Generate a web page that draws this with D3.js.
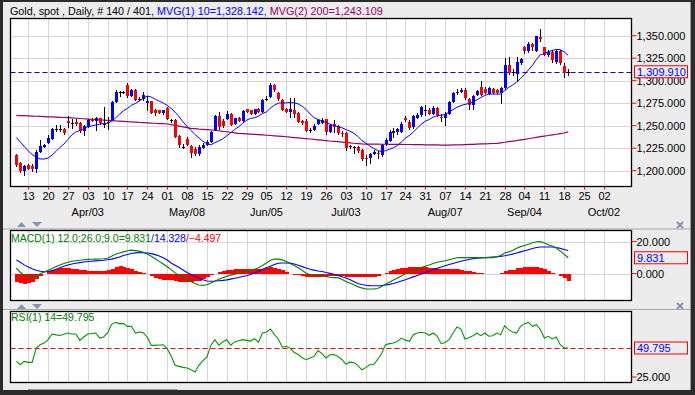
<!DOCTYPE html>
<html><head><meta charset="utf-8">
<script src="https://cdn.jsdelivr.net/npm/d3@7"></script>
<style>
body{margin:0;background:#2b2b2b;}
svg{display:block;font-family:"Liberation Sans",Arial,sans-serif;}
</style>
</head><body>
<svg id="c" width="695" height="395"></svg>
<script>
// ---------- DATA ----------
const opens=[1217,1209,1200,1206,1205.5,1201.5,1221,1226,1231,1235,1246,1246,1246,1255,1253.5,1254,1253,1244,1248,1257,1255.6,1258,1252.2,1254.2,1256,1276,1287,1287,1295,1283,1290,1279.2,1280,1275,1277,1267,1267,1264,1270,1256.2,1256,1238.5,1226.2,1235,1227.5,1224.5,1218.5,1225,1228.5,1232,1245,1260.7,1255,1257,1263,1252,1258,1255.6,1268,1267,1263,1268,1265.6,1280.2,1282,1295,1286,1279,1268,1265.6,1267,1263.7,1255,1255.6,1245.2,1245,1252,1253,1257,1243.4,1252,1249.7,1242,1242,1226,1226.2,1226.7,1223,1214,1214,1219,1220,1217,1230,1233,1242,1243.4,1243.4,1258,1254.5,1248,1258.5,1261.9,1267.7,1267.5,1263,1270,1260,1258,1263,1276,1286,1288,1289.6,1280,1273,1284,1292.6,1291,1285,1291,1290,1286,1291.5,1317.4,1310.2,1308,1320,1337,1333.3,1340.7,1333,1349,1337,1328.5,1332,1321,1333,1316,1309.9];
const highs=[1219,1210,1206,1208,1207,1223,1234,1230,1240,1248,1251,1251,1247,1261,1258,1257,1254,1251,1257,1259,1260,1259,1271,1260,1278,1290,1289,1289,1297,1291,1291,1282,1288,1283,1278,1269,1268,1268,1271,1258,1257,1240,1230,1237,1229,1226,1229,1231,1234,1244,1262,1265,1257,1266,1264,1259,1260,1268,1269,1268,1269,1270,1280,1283,1297,1296,1287,1280,1270,1281,1281,1265,1256,1257,1248,1252,1258,1259,1258,1252,1256,1251,1244,1243,1229,1228,1228,1224,1218,1220,1223,1222,1230,1236,1245,1247,1248,1254,1261,1256,1262,1264,1272,1273,1270,1272,1271,1263,1265,1278,1288,1291,1292,1292,1281,1284,1290,1300,1293,1293,1292,1291,1293,1325,1326,1313,1326,1325,1339,1343,1342,1350,1357,1338,1334,1334,1334,1334,1320,1313];
const lows=[1204.5,1198,1194,1201,1199,1197,1220,1225,1230,1234,1243,1243,1240,1247,1246,1250,1242,1239,1247,1254,1244,1251,1247,1245,1255,1275,1282,1285,1281,1282,1277,1277,1278,1266,1263,1261,1263,1262,1256,1253,1236,1225,1224,1227,1214,1216,1216,1224,1227,1231,1244,1245,1248,1256,1250,1251,1254,1254,1264,1262,1262,1264,1264,1278,1281,1288,1278,1266,1264,1259,1259,1253,1251,1243,1242,1244,1251,1252,1240,1242,1242,1240,1238,1222,1224,1219,1220,1211,1205,1207,1217,1213,1215,1228,1232,1236,1240,1242,1254,1245,1246,1257,1260,1261,1262,1262,1260,1254,1250,1262,1275,1284,1286,1279,1267.4,1267,1283,1283,1285,1284,1285,1285,1274,1290,1306,1305,1299,1318,1330,1331,1333,1332,1343,1327,1326,1320,1319,1318,1302.6,1305];
const closes=[1206,1200,1205,1202,1201.5,1221,1227,1229,1236,1246,1246,1246.3,1241.5,1253,1253,1252,1244,1250,1256,1255,1258,1252.6,1252,1254,1276,1287,1287.2,1287,1283.4,1290,1278.5,1279,1284,1278,1264,1264,1264,1267,1257,1256,1237,1228.5,1226,1229,1219.3,1218.5,1226,1228,1232,1243,1260.7,1248,1249.6,1263,1250.8,1258,1255,1266.7,1265.6,1263,1268,1265.6,1278.6,1280,1295.2,1289.6,1279.3,1267.4,1265.6,1268,1263,1254.5,1252.6,1244.5,1245,1250,1256,1256.5,1243.4,1250.8,1248,1241.5,1241,1224.8,1227.4,1226,1222,1212.6,1213,1218.5,1221,1218,1228.5,1234,1243.4,1244,1246,1251.9,1256,1247,1260.7,1261.9,1270.4,1267.5,1263,1270,1262,1258,1263,1276,1286,1288,1289.6,1280.4,1273,1283,1288.9,1284,1286,1291.5,1286,1286,1291.5,1317.4,1308.9,1310,1321,1323.6,1333.3,1340.7,1337,1349.6,1346,1328.5,1332,1323,1333,1320,1309,1309.91];
const ma10=[1237,1232,1227,1222,1218,1215,1213,1213,1214,1217.4,1221.4,1226,1229.6,1234.7,1239.9,1243,1244.7,1246.8,1248.8,1249.7,1250.9,1251.5,1252.6,1252.7,1255,1258.5,1262.8,1266.5,1269.2,1272.7,1274.8,1277.4,1280.6,1283,1281.8,1279.5,1277.2,1275.2,1272.6,1269.2,1265,1260,1254.2,1249.3,1244.8,1240.3,1236.5,1232.6,1230.1,1228.8,1231.1,1233.1,1235.4,1238.8,1242,1245.9,1248.8,1252.7,1256.1,1258.1,1258.8,1260.6,1263.5,1265.2,1269.6,1272.8,1275.2,1275.3,1275.3,1275.8,1275.3,1274.2,1271.6,1268,1263,1259,1256.7,1255.6,1253.4,1251.7,1250.2,1248.9,1247.7,1245.7,1244,1241.6,1238.2,1233.8,1230.8,1227.5,1224.8,1222.5,1221.2,1222.2,1223.8,1225.6,1228,1231.9,1236.2,1239.1,1243,1247.4,1251.6,1255,1256.9,1259.5,1261.1,1261.7,1262.4,1265.3,1267.9,1270.5,1272.4,1273.7,1274.7,1276,1278.7,1281.3,1283.6,1285.2,1285.2,1285,1285.2,1288.9,1292.5,1295.2,1298.4,1302.3,1307.1,1312,1317.1,1323.5,1328.9,1330,1332.3,1333.6,1334.8,1334.5,1332,1328.142];
const ma200=[1261.5,1261.3,1261.1,1260.9,1260.7,1260.5,1260.3,1260.1,1259.9,1259.7,1259.5,1259.3,1259.1,1258.9,1258.6,1258.3,1258,1257.7,1257.4,1257.1,1256.8,1256.5,1256.2,1255.9,1255.6,1255.3,1255.1,1254.8,1254.5,1254.3,1254,1253.7,1253.5,1253.2,1252.9,1252.7,1252.4,1252.2,1251.9,1251.1,1250.3,1249.5,1248.7,1247.9,1247,1246.7,1246.3,1246,1245.7,1245.3,1245,1244.4,1243.8,1243.3,1242.7,1242.1,1241.5,1241.2,1240.9,1240.6,1240.3,1240,1239.7,1239.4,1239.1,1238.8,1238.5,1238.1,1237.7,1237.2,1236.8,1236.4,1236,1235.6,1235.2,1234.7,1234.3,1233.9,1233.5,1233,1232.6,1232.2,1231.8,1231.4,1231,1230.5,1230.1,1229.7,1229.6,1229.6,1229.5,1229.5,1229.4,1229.4,1229.3,1229.3,1229.2,1229.2,1229.1,1229.1,1229,1229,1228.9,1228.8,1228.8,1228.7,1228.6,1228.5,1228.5,1228.5,1228.6,1228.6,1228.8,1229,1229.2,1229.3,1229.5,1229.7,1229.9,1230,1230.2,1230.4,1231,1231.6,1232.3,1232.9,1233.5,1234.2,1234.8,1235.5,1236.3,1237,1237.8,1238.5,1239.1,1239.8,1240.5,1241.2,1241.9,1243.109];
const macd=[3.4,0.8,-1.2,-2,-2.4,-1.5,-0.2,1,2.1,3.2,4.3,5.3,6.2,7,7.7,8,8.3,8.6,8.8,8.9,9,9.1,9.2,9.5,10.8,12,12.8,13.5,14.2,14.6,14.3,14,13.2,12.2,10.8,9.2,7.6,5.9,4.2,2.4,0.4,-1.2,-2.6,-3.8,-5,-6.2,-7.2,-7.4,-7,-6,-4.8,-3.6,-2.6,-1.8,-1,-0.4,0.2,0.8,1.4,2,2.7,3.6,5,6.6,8.3,9.1,9,8.5,7.5,6.2,5,3.6,2,0.2,-0.6,-0.9,-1.1,-1.4,-1.8,-2.3,-2.6,-2.6,-3.6,-5,-6,-7,-8.2,-9,-9.7,-9.7,-9.7,-9.4,-8.2,-6.6,-5.4,-4.1,-2.8,-1.5,-0.2,0.8,1.8,2.8,3.7,4.5,5.3,6.2,7,7.5,8,8.6,9.2,9.8,9.9,9.9,9.9,9.9,9.9,9.9,9.9,9.9,9.9,10.4,11.2,12.8,13.5,14.4,15.8,16.8,17.5,18.3,19.2,19.8,19.9,19,18,17.2,16,14,12,9.831];
const signal=[8.5,7,5.4,4,2.9,2,1.4,1,1.2,1.8,2.7,3.6,4.5,5.3,5.9,6.4,6.8,7.2,7.5,7.7,7.9,8.1,8.3,8.6,9,9.6,10.3,11.2,11.9,12.5,12.9,13.1,13,12.8,12.4,11.8,10.9,9.8,8.4,6.6,5.2,3.8,2.2,0.6,-0.6,-1.7,-2.8,-3.9,-4.7,-4.8,-4.7,-4.5,-4.3,-4,-3.5,-3,-2.5,-1.9,-1.4,-0.6,0.4,1.3,2.6,3.6,4.6,5.6,6.4,6.6,6.6,6.5,5.9,5.1,4.3,3.4,2.6,2.1,1.6,1.2,0.6,0.1,-0.5,-1.2,-2,-2.8,-3.8,-5,-6.2,-6.9,-7.3,-7.6,-7.7,-7.7,-7.6,-7.2,-6.8,-6.2,-5.5,-4.7,-3.9,-3,-2.1,-1.2,-0.3,0.6,1.5,2.4,3.2,4,4.8,5.6,6.3,7,7.7,8.3,8.8,9.2,9.5,9.7,9.9,10.1,10.3,10.5,10.7,11.1,11.6,12.1,12.8,13.5,14.2,14.9,15.6,16.3,16.6,16.6,16.6,16.6,16.3,15.7,15,14.328];
const hist=[-5.1,-6.2,-6.6,-6,-5.3,-3.5,-1.6,0,1.5,2.4,3,3.4,3.4,3.2,3,2.6,2.2,1.9,1.7,1.5,1.4,1.3,1.5,2,3,4,4.4,4.2,3.6,2.8,1.8,1,0.3,-0.6,-1.6,-2.6,-3.3,-3.9,-4.2,-4.2,-4.8,-5,-5.2,-5.4,-5.2,-4.9,-4.4,-3.5,-2.3,-1.2,-0.1,0.9,1.7,2.2,2.5,2.6,2.7,2.7,2.8,2.7,2.6,2.7,2.9,3.4,3.9,3.7,2.8,1.9,0.9,-0.3,-0.8,-1.2,-1.7,-2.2,-2.3,-2.2,-2,-1.9,-1.8,-1.8,-1.6,-1.4,-1.6,-2.2,-2.2,-2,-2,-2.1,-2.4,-2.1,-2,-1.7,-0.6,0.6,1.4,2.1,2.7,3.2,3.7,3.8,3.9,4,4,3.8,3.5,3.3,3.1,2.9,2.7,2.6,2.6,2.6,2.3,1.8,1.3,0.9,0.5,0.2,0,-0.2,-0.4,-0.1,0.5,1.7,1.9,2.5,3.2,3.7,4,4.1,4.2,4,3.6,2.6,1.5,0.6,-0.3,-1.7,-3,-4.497];
const rsi=[38.3,35.5,38.3,37.5,37.5,49.8,52.6,54,57,61.7,61,60.5,61.5,62.6,61.7,61.7,56.3,59.2,61.7,62.2,62.6,58.3,59.2,62.6,70,71.7,70.6,70.6,68.3,68.3,62.6,63.4,62.8,59,52,52,52.3,52.6,49.2,43,35,34.1,33.2,32.7,31.3,29.3,35,39,42,52,56.9,52.2,55,56.9,52.2,55,56,56.9,56.3,55.7,57.7,54.8,62.6,63.5,66,61.2,57.5,50.5,51.2,49.5,46,44.2,41.5,39.8,41.2,42.6,47.6,45,41.3,44,44.2,42.6,40,36,37.7,37.4,35,31.2,33,35.5,35.5,40,45,52.6,53.5,54,55.5,58.3,56.5,55.5,61.2,62.6,63.2,62.6,60.6,62.6,60,53.5,54.5,56.9,62.6,67.7,66,57.5,58.5,60.3,62.6,60.3,62.6,59.8,60.3,62.6,61,68.9,65.5,63.5,62.6,68.3,70.6,71.7,68.3,69.7,65.5,58.3,59.8,57.5,59.2,52.6,49.8,49.795];
const weekLabels=["13","20","27","03","10","17","24","01","08","15","22","29","05","12","19","26","03","10","17","24","31","07","14","21","28","04","11","18","25","02"];
const monthLabels=[{k:3,t:"Apr/03"},{k:8,t:"May/08"},{k:12,t:"Jun/05"},{k:16,t:"Jul/03"},{k:21,t:"Aug/07"},{k:25,t:"Sep/04"},{k:29,t:"Oct/02"}];
const priceTicks=[1200,1225,1250,1275,1300,1325,1350];
const macdTicks=[0,20];
const rsiTicks=[25];
const lastPrice=1309.91, lastMacd=9.831, lastSignal=14.328, lastHist=-4.497, lastRsi=49.795;
const ma10Last=1328.142, ma200Last=1243.109;
const firstWeekIdx=3, barsPerWeek=5;

// ---------- LAYOUT ----------
const L=10.5, R=631.5;
const P={top:18.5,bot:186.5}, M={top:230.5,bot:300.5}, S={top:311.5,bot:382.5};
const BG="#ececec", GRID="#d6d6d6";
const svg=d3.select("#c");
const x=d3.scaleLinear().domain([0,148]).range([16.3,603.9]);
const yP=d3.scaleLinear().domain([1200,1350]).range([170.7,35.7]);
const yM=d3.scaleLinear().domain([0,20]).range([273.5,241.5]);
const yR=d3.scaleLinear().domain([25,75]).range([377,318.5]);
const f3=d3.format(",.3f");
const idx=d3.range(closes.length);

svg.append("rect").attr("x",3).attr("y",2).attr("width",688).attr("height",388).attr("fill",BG);
[229,309.5].forEach(yy=>svg.append("line").attr("x1",3).attr("x2",691).attr("y1",yy).attr("y2",yy).attr("stroke","#a9a9a9"));
svg.append("line").attr("x1",690.5).attr("x2",690.5).attr("y1",2).attr("y2",390).attr("stroke","#9a9a9a");

const defs=svg.append("defs");
function panel(id,box){
  defs.append("clipPath").attr("id",id).append("rect").attr("x",L).attr("y",box.top).attr("width",R-L).attr("height",box.bot-box.top);
  svg.append("rect").attr("x",L).attr("y",box.top).attr("width",R-L).attr("height",box.bot-box.top).attr("fill","#fff");
  const g=svg.append("g").attr("clip-path",`url(#${id})`);
  weekLabels.forEach((t,k)=>{const xx=Math.round(x(firstWeekIdx+k*barsPerWeek))+0.5;
    g.append("line").attr("x1",xx).attr("x2",xx).attr("y1",box.top).attr("y2",box.bot).attr("stroke",GRID);});
  return g;
}
function frame(box){
  svg.append("rect").attr("x",L).attr("y",box.top).attr("width",R-L).attr("height",box.bot-box.top).attr("fill","none").attr("stroke","#000").attr("stroke-width",1.3);
}
function yLabel(yy,txt,col){
  svg.append("line").attr("x1",R).attr("x2",R+5).attr("y1",yy).attr("y2",yy).attr("stroke","#ff0000");
  svg.append("text").attr("x",R+5).attr("y",yy+4).attr("font-size",11).attr("fill",col||"#000").text(txt);
}
function valBox(yy,txt){
  svg.append("rect").attr("x",634.5).attr("y",yy-6).attr("width",53).attr("height",12).attr("fill",BG).attr("stroke","#ff0000");
  svg.append("text").attr("x",637).attr("y",yy+4).attr("font-size",11).attr("fill","#0000ff").text(txt);
}
function fitWidth(sel,target){
  const w=sel.node().getComputedTextLength();
  if(w>0) sel.attr("font-size",11*target/w);
}

// ---------- PRICE PANEL ----------
const gP=panel("cp",P);
priceTicks.forEach(v=>{const yy=Math.round(yP(v))+0.5;
  gP.append("line").attr("x1",L).attr("x2",R).attr("y1",yy).attr("y2",yy).attr("stroke",GRID);});
gP.append("line").attr("x1",L).attr("x2",R).attr("y1",Math.round(yP(lastPrice))+0.5).attr("y2",Math.round(yP(lastPrice))+0.5)
  .attr("stroke","#0000ff").attr("stroke-dasharray","5,3");
gP.append("path").datum(idx).attr("fill","none").attr("stroke","#990066").attr("stroke-width",1.2)
  .attr("d",d3.line().x(i=>x(i)).y(i=>yP(ma200[i])));
const cg=gP.append("g").attr("shape-rendering","crispEdges");
idx.forEach(i=>{
  const xx=Math.round(x(i));
  cg.append("line").attr("x1",xx+0.5).attr("x2",xx+0.5).attr("y1",yP(highs[i])).attr("y2",yP(lows[i])).attr("stroke","#000");
  const o=opens[i],c=closes[i];
  const top=yP(Math.max(o,c)), bot=yP(Math.min(o,c));
  if(Math.abs(o-c)<0.6){
    cg.append("rect").attr("x",xx-1).attr("y",Math.round(top)).attr("width",3).attr("height",1).attr("fill","#000");
  } else {
    cg.append("rect").attr("x",xx-1).attr("y",Math.round(top)).attr("width",3).attr("height",Math.max(1,Math.round(bot)-Math.round(top)))
      .attr("fill",c>o?"#0000ff":"#ff0000");
  }
});
gP.append("path").datum(idx).attr("fill","none").attr("stroke","#0000ff").attr("stroke-width",1)
  .attr("d",d3.line().x(i=>x(i)).y(i=>yP(ma10[i])));
frame(P);
priceTicks.forEach(v=>yLabel(yP(v),f3(v)));
valBox(yP(lastPrice),f3(lastPrice));

weekLabels.forEach((t,k)=>{const xx=Math.round(x(firstWeekIdx+k*barsPerWeek))+0.5;
  svg.append("line").attr("x1",xx).attr("x2",xx).attr("y1",P.bot).attr("y2",P.bot+3).attr("stroke","#ff0000");
  svg.append("text").attr("x",xx).attr("y",200).attr("text-anchor","middle").attr("font-size",11).text(t);});
monthLabels.forEach(m=>svg.append("text").attr("x",x(firstWeekIdx+m.k*barsPerWeek)).attr("y",216).attr("text-anchor","middle").attr("font-size",11).text(m.t));

const tt=svg.append("text").attr("x",10).attr("y",15).attr("font-size",11);
tt.append("tspan").attr("fill","#000").text("Gold, spot , Daily, # 140 / 401");
tt.append("tspan").attr("fill","#0000ff").text(", MVG(1) 10="+f3(ma10Last));
tt.append("tspan").attr("fill","#990066").text(", MVG(2) 200="+f3(ma200Last));
fitWidth(tt,373);

// ---------- MACD PANEL ----------
const gM=panel("cm",M);
macdTicks.forEach(v=>{const yy=Math.round(yM(v))+0.5;
  gM.append("line").attr("x1",L).attr("x2",R).attr("y1",yy).attr("y2",yy).attr("stroke",GRID);});
gM.append("g").attr("shape-rendering","crispEdges").selectAll("rect").data(idx).join("rect")
  .attr("x",i=>Math.round(x(i))-1.5).attr("width",4)
  .attr("y",i=>Math.min(yM(0),yM(hist[i]))).attr("height",i=>Math.abs(yM(hist[i])-yM(0)))
  .attr("fill","#ff0000");
gM.append("path").datum(idx).attr("fill","none").attr("stroke","#0000ff").attr("stroke-width",1.1)
  .attr("d",d3.line().x(i=>x(i)).y(i=>yM(signal[i])));
gM.append("path").datum(idx).attr("fill","none").attr("stroke","#008000").attr("stroke-width",1.1)
  .attr("d",d3.line().x(i=>x(i)).y(i=>yM(macd[i])));
frame(M);
macdTicks.forEach(v=>yLabel(yM(v),d3.format(".3f")(v)));
valBox(yM(lastMacd),d3.format(".3f")(lastMacd));
const mt=svg.append("text").attr("x",11).attr("y",242).attr("font-size",11);
mt.append("tspan").attr("fill","#008000").text("MACD(1) 12.0;26.0;9.0="+d3.format(".3f")(lastMacd));
mt.append("tspan").attr("fill","#0000ff").text("/"+d3.format(".3f")(lastSignal));
mt.append("tspan").attr("fill","#ff0000").text("/"+d3.format(".3f")(lastHist));
fitWidth(mt,210.5);

// ---------- RSI PANEL ----------
const gR=panel("cr",S);
gR.append("line").attr("x1",L).attr("x2",R).attr("y1",Math.round(yR(lastRsi))+0.5).attr("y2",Math.round(yR(lastRsi))+0.5)
  .attr("stroke","#ff0000").attr("stroke-width",1.2).attr("stroke-dasharray","5,3");
gR.append("path").datum(idx).attr("fill","none").attr("stroke","#009900").attr("stroke-width",1.1)
  .attr("d",d3.line().x(i=>x(i)).y(i=>yR(rsi[i])));
frame(S);
rsiTicks.forEach(v=>yLabel(yR(v),d3.format(".3f")(v)));
valBox(yR(lastRsi),d3.format(".3f")(lastRsi));
const rt=svg.append("text").attr("x",11).attr("y",321).attr("font-size",11).attr("fill","#008000").text("RSI(1) 14="+d3.format(".3f")(lastRsi));
fitWidth(rt,83.5);

// ---------- small controls ----------
function arrows(yy){
  svg.append("path").attr("d",`M17,${yy+4}L21.5,${yy-1}L26,${yy+4}Z`).attr("fill","#8394b4");
  svg.append("path").attr("d",`M32,${yy-1}L42,${yy-1}L37,${yy+4}Z`).attr("fill","#8394b4");
}
arrows(223); arrows(305);
function xIcon(cx,cy){
  svg.append("path").attr("d",`M${cx-3},${cy-3}L${cx+3},${cy+3}M${cx+3},${cy-3}L${cx-3},${cy+3}`).attr("stroke","#8394b4").attr("stroke-width",2);
}
xIcon(680,225); xIcon(680,306);
svg.append("line").attr("x1",28).attr("x2",177).attr("y1",389.5).attr("y2",389.5).attr("stroke","#9a9a9a");
</script>
</body></html>
